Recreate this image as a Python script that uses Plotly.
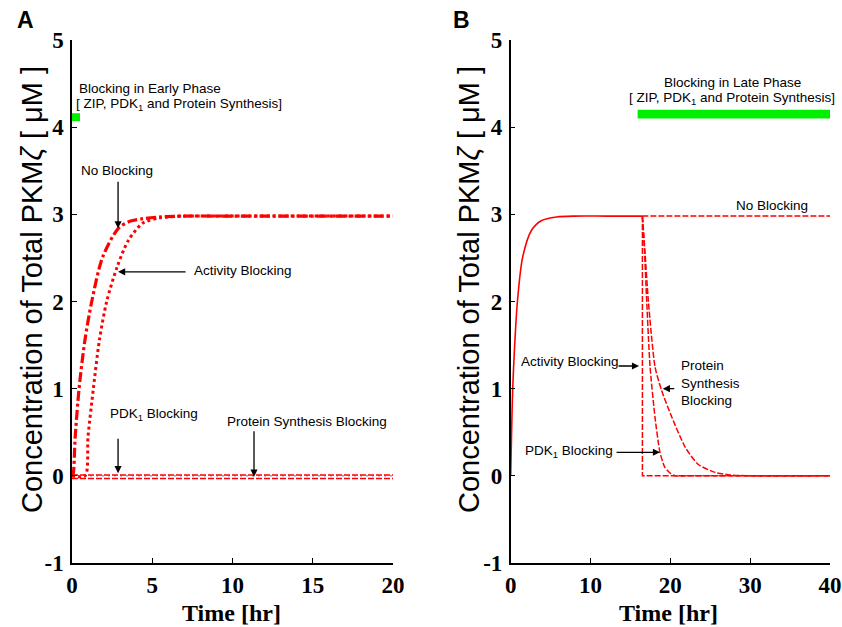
import plotly.graph_objects as go

# ---------------- Data ----------------
# Panel A : early-phase blocking
tA_noblock = [0, 0.05, 0.2, 0.44, 0.8, 1.23, 1.91, 2.89, 3.6, 4.42, 5.5, 7, 10, 20]
yA_noblock = [0, 0.0, 0.45, 1.0, 1.55, 2.0, 2.51, 2.84, 2.92, 2.95, 2.97, 2.98, 2.98, 2.98]

tA_activity = [0, 0.81, 1.0, 1.33, 1.71, 2.16, 2.82, 3.51, 4.42, 5.5, 7, 10, 20]
yA_activity = [0, 0.0, 0.45, 1.0, 1.56, 2.0, 2.4, 2.7, 2.9, 2.96, 2.98, 2.98, 2.98]

tA_pdk1 = [0, 20]
yA_pdk1 = [0.01, 0.01]

tA_protein = [0, 20]
yA_protein = [-0.03, -0.03]

tA_zero = [0, 20]
yA_zero = [0, 0]

early_block_t = [0, 0.5]
early_block_y = [4.07, 4.16]

# Panel B : late-phase blocking
tB_rise = [0, 0.1, 0.25, 0.5, 0.84, 1.5, 2.63, 3.88, 5.76, 8, 12, 16.5]
yB_rise = [0, 0.45, 1.0, 1.5, 2.0, 2.51, 2.82, 2.93, 2.97, 2.98, 2.98, 2.98]

tB_noblock = [16.5, 40]
yB_noblock = [2.98, 2.98]

tB_activity = [16.5, 16.5, 40]
yB_activity = [2.98, 0.0, 0.0]

tB_pdk1 = [16.5, 16.75, 17.04, 17.46, 18.08, 18.7, 19.3, 20.0, 20.6, 22, 40]
yB_pdk1 = [2.98, 2.6, 2.0, 1.25, 0.67, 0.27, 0.1, 0.03, 0.0, 0.0, 0.0]

tB_protein = [16.5, 16.8, 17.25, 18.08, 18.9, 20.2, 21.85, 23.5, 25.6, 27.5, 30, 40]
yB_protein = [2.98, 2.6, 2.0, 1.25, 0.98, 0.67, 0.33, 0.13, 0.04, 0.01, 0.0, 0.0]

late_block_t = [15.9, 40]
late_block_y = [4.10, 4.20]

y_ticks = [-1, 0, 1, 2, 3, 4, 5]
y_ticktext = ["-1", "0", "1", "2", "3", "4", "5"]
xA_ticks = [0, 5, 10, 15, 20]
xB_ticks = [0, 10, 20, 30, 40]

RED = "#ff0000"
SANS = "Liberation Sans, Arial, sans-serif"
SERIF = "Liberation Serif, Times New Roman, serif"

fig = go.Figure()

# Panel A traces
fig.add_trace(go.Scatter(x=tA_zero, y=yA_zero, mode="lines", xaxis="x", yaxis="y",
                         line=dict(color="#4a5cff", width=1, dash="2px,4px")))
fig.add_trace(go.Scatter(x=tA_pdk1, y=yA_pdk1, mode="lines", xaxis="x", yaxis="y",
                         line=dict(color=RED, width=1.5, dash="6px,2px")))
fig.add_trace(go.Scatter(x=tA_protein, y=yA_protein, mode="lines", xaxis="x", yaxis="y",
                         line=dict(color=RED, width=1.5, dash="6px,2px")))
fig.add_trace(go.Scatter(x=tA_activity, y=yA_activity, mode="lines", xaxis="x", yaxis="y",
                         line=dict(color=RED, width=3, dash="3px,3px", shape="spline", smoothing=0.8)))
fig.add_trace(go.Scatter(x=tA_noblock, y=yA_noblock, mode="lines", xaxis="x", yaxis="y",
                         line=dict(color=RED, width=3.2, dash="10px,3px,3px,3px", shape="spline", smoothing=0.8)))

# Panel B traces
fig.add_trace(go.Scatter(x=tB_rise, y=yB_rise, mode="lines", xaxis="x2", yaxis="y2",
                         line=dict(color=RED, width=1.6, shape="spline", smoothing=0.8)))
fig.add_trace(go.Scatter(x=tB_noblock, y=yB_noblock, mode="lines", xaxis="x2", yaxis="y2",
                         line=dict(color=RED, width=1.5, dash="6px,2px")))
fig.add_trace(go.Scatter(x=tB_activity, y=yB_activity, mode="lines", xaxis="x2", yaxis="y2",
                         line=dict(color=RED, width=1.5, dash="6px,2px")))
fig.add_trace(go.Scatter(x=tB_pdk1, y=yB_pdk1, mode="lines", xaxis="x2", yaxis="y2",
                         line=dict(color=RED, width=1.5, dash="6px,2px", shape="spline", smoothing=0.6)))
fig.add_trace(go.Scatter(x=tB_protein, y=yB_protein, mode="lines", xaxis="x2", yaxis="y2",
                         line=dict(color=RED, width=1.5, dash="6px,2px", shape="spline", smoothing=0.6)))

# Green blocking bars
fig.add_shape(type="rect", xref="x", yref="y",
              x0=early_block_t[0], x1=early_block_t[1], y0=early_block_y[0], y1=early_block_y[1],
              fillcolor="#00ee00", line=dict(width=0))
fig.add_shape(type="rect", xref="x2", yref="y2",
              x0=late_block_t[0], x1=late_block_t[1], y0=late_block_y[0], y1=late_block_y[1],
              fillcolor="#00ee00", line=dict(width=0))

tick_font = dict(family=SERIF, size=23, color="black", weight="bold")
common_y = dict(range=[-1, 5], tickvals=y_ticks, ticktext=y_ticktext, showline=True,
                linecolor="black", linewidth=1.5, ticks="inside", ticklen=5, tickcolor="black",
                tickwidth=1.2, showgrid=False, zeroline=False, tickfont=tick_font,
                ticklabelstandoff=2, automargin=False, domain=[1 - 563 / 627, 1 - 40 / 627])
common_x = dict(showline=True, linecolor="black", linewidth=1.5, ticks="inside", ticklen=5,
                tickcolor="black", tickwidth=1.2, showgrid=False, zeroline=False,
                tickfont=tick_font, ticklabelstandoff=1, automargin=False)

fig.update_layout(
    template="none",
    width=842, height=627, margin=dict(l=0, r=0, t=0, b=0, pad=0),
    paper_bgcolor="white", plot_bgcolor="white", showlegend=False,
    xaxis=dict(common_x, range=[0, 20], tickvals=xA_ticks, domain=[72 / 842, 393 / 842], anchor="y"),
    yaxis=dict(common_y, anchor="x"),
    xaxis2=dict(common_x, range=[0, 40], tickvals=xB_ticks, domain=[510.7 / 842, 830 / 842], anchor="y2"),
    yaxis2=dict(common_y, anchor="x2"),
)

ann = []
txt = dict(family=SANS, size=13.5, color="black")


def label(text, x, y, xref, yref, xanchor="left", align="left"):
    ann.append(dict(text=text, x=x, y=y, xref=xref, yref=yref, showarrow=False,
                    xanchor=xanchor, yanchor="middle", align=align, font=txt))


def arrow(x, y, ax, ay, xref, yref):
    ann.append(dict(text="", x=x, y=y, xref=xref, yref=yref, ax=ax, ay=ay, showarrow=True,
                    arrowhead=2, arrowsize=1.1, arrowwidth=1.3, arrowcolor="black"))


# Panel A annotations
label("Blocking in Early Phase", 0.31, 4.44, "x", "y")
label("[ ZIP, PDK<sub>1</sub> and Protein Synthesis]", 0.12, 4.26, "x", "y")
label("No Blocking", 2.8, 3.5, "x", "y", xanchor="center")
arrow(2.87, 2.84, 0, -48, "x", "y")
label("Activity Blocking", 7.48, 2.35, "x", "y")
arrow(2.87, 2.34, 69, 0, "x", "y")
label("PDK<sub>1</sub> Blocking", 2.24, 0.70, "x", "y")
arrow(2.87, 0.03, 0, -36, "x", "y")
label("Protein Synthesis Blocking", 9.53, 0.62, "x", "y")
arrow(11.34, -0.01, 0, -47, "x", "y")

# Panel B annotations
label("Blocking in Late Phase", 27.73, 4.51, "x2", "y2", xanchor="center", align="center")
label("[ ZIP, PDK<sub>1</sub> and Protein Synthesis]", 27.73, 4.33, "x2", "y2", xanchor="center", align="center")
label("No Blocking", 32.7, 3.10, "x2", "y2", xanchor="center")
label("Activity Blocking", 1.04, 1.31, "x2", "y2")
arrow(16.08, 1.26, -22, 0, "x2", "y2")
label("Protein<br>Synthesis<br>Blocking", 21.1, 1.06, "x2", "y2")
arrow(19.05, 1.0, 13, 0, "x2", "y2")
label("PDK<sub>1</sub> Blocking", 1.54, 0.28, "x2", "y2")
arrow(18.71, 0.27, -45, 0, "x2", "y2")

# Panel letters, axis titles
for letter, px in (("A", 25), ("B", 461)):
    ann.append(dict(text="<b>" + letter + "</b>", x=px / 842, y=1 - 20 / 627, xref="paper", yref="paper",
                    showarrow=False, xanchor="center", yanchor="middle",
                    font=dict(family=SANS, size=23, color="black")))
for px in (32, 469):
    ann.append(dict(text="Concentration of Total PKM<i>ζ</i> [ μM ]", x=px / 842, y=1 - 290 / 627,
                    xref="paper", yref="paper", showarrow=False, textangle=-90,
                    xanchor="center", yanchor="middle",
                    font=dict(family=SANS, size=29, color="black")))
for px in (232, 668):
    ann.append(dict(text="<b>Time [hr]</b>", x=px / 842, y=1 - 613 / 627, xref="paper", yref="paper",
                    showarrow=False, xanchor="center", yanchor="middle",
                    font=dict(family=SERIF, size=24, color="black")))

fig.update_layout(annotations=ann)
fig.write_html("out.html", config={"displayModeBar": False},
               post_script="document.body.style.margin='0';document.body.style.overflow='hidden';")
